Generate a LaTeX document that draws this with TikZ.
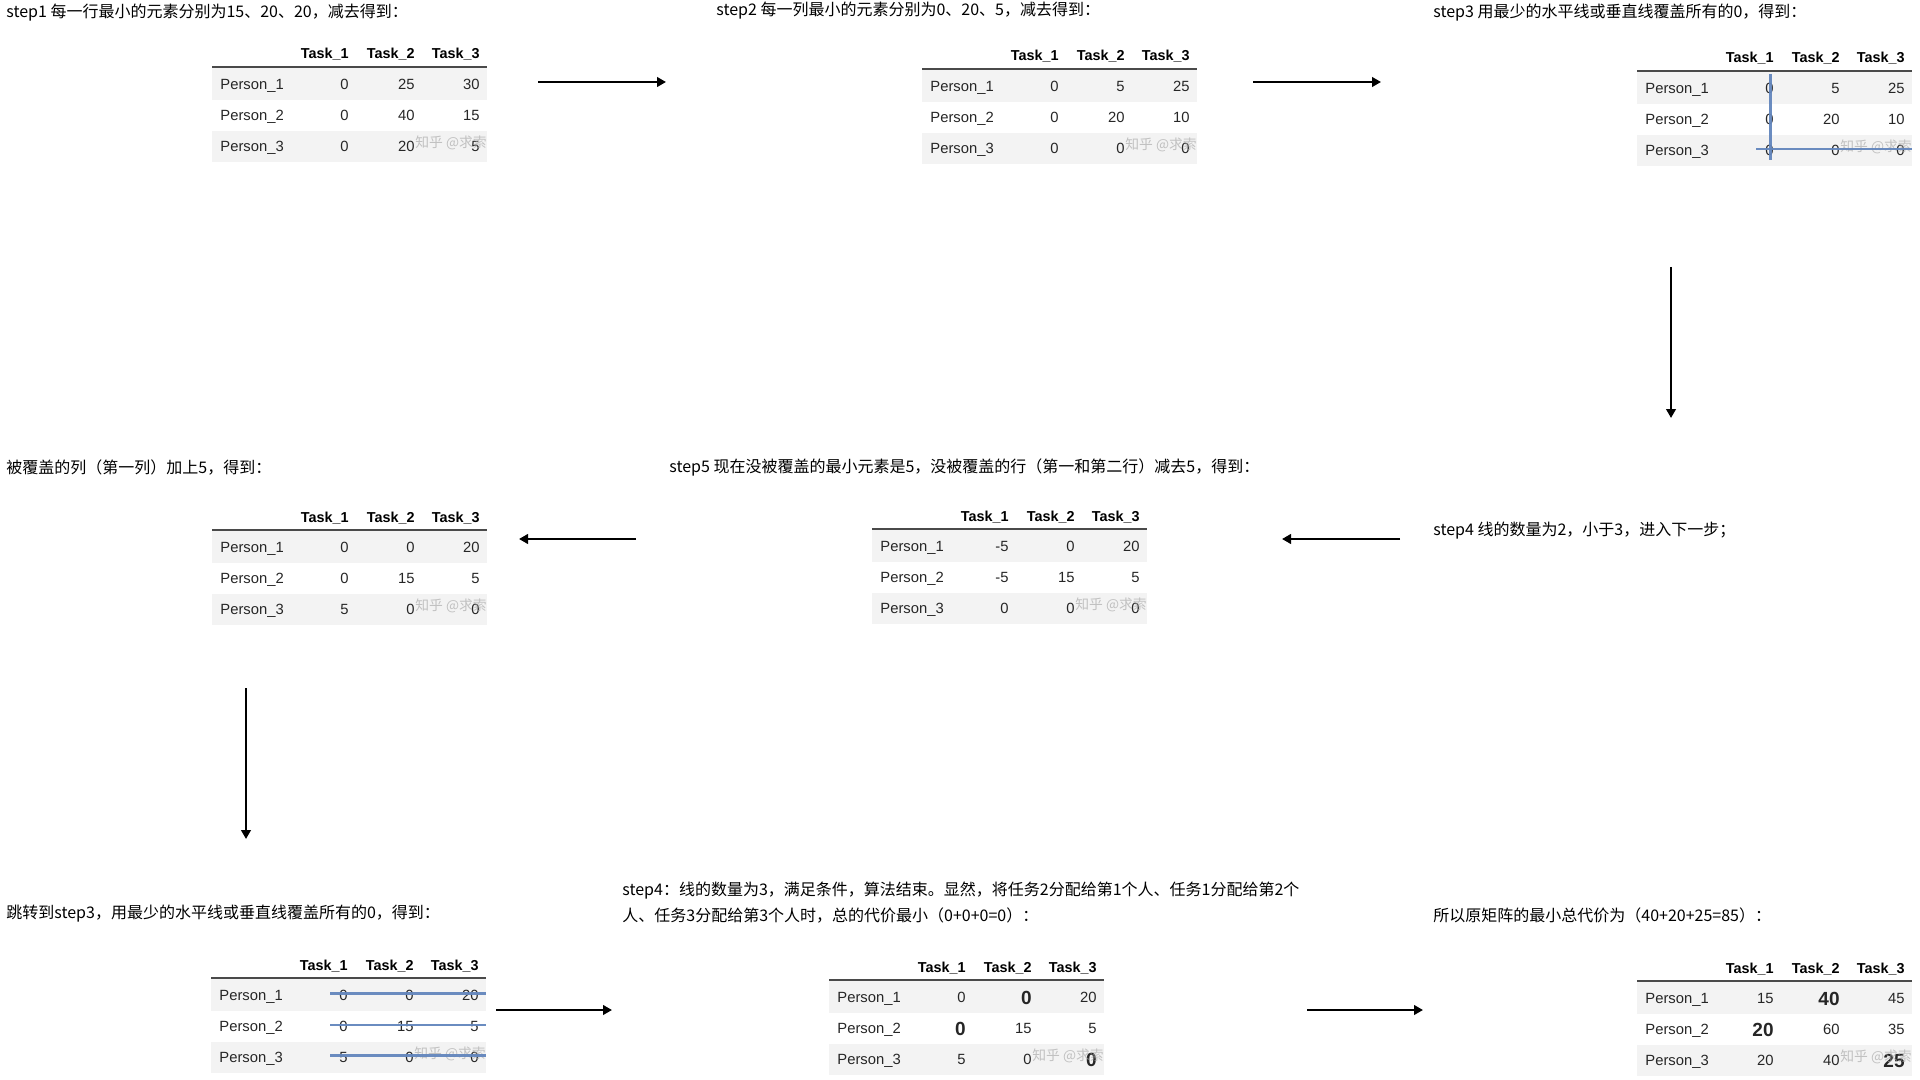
\documentclass[tikz,border=0pt]{standalone}
\usepackage{fontspec}
\setmainfont{Liberation Sans}
\newfontfamily\cjk{Noto Sans CJK SC}
\usetikzlibrary{arrows.meta}
\definecolor{rowgray}{HTML}{F3F3F3}
\definecolor{coverblue}{HTML}{6386BD}
\definecolor{rulegray}{HTML}{4A4A4A}
\newcommand\tabfont{\fontsize{7.4}{8}\selectfont}
\newcommand\hdfont{\fontsize{7.2}{8}\selectfont\bfseries}
\newcommand\capfont{\cjk\fontsize{8}{9}\selectfont}
\newcommand\bn[1]{\raisebox{-0.8pt}{\fontsize{9.5}{10}\selectfont\bfseries #1}}
\tikzset{
  cell/.style={anchor=base east, inner sep=0pt, font=\tabfont, text=black!85},
  pcell/.style={anchor=base west, inner sep=0pt, font=\tabfont, text=black!85},
  hcell/.style={anchor=base east, inner sep=0pt, font=\hdfont, text=black},
  caption/.style={anchor=west, inner sep=0pt, font=\capfont, text=black},
  wm/.style={anchor=west, inner sep=0pt, font=\cjk\fontsize{6.9}{8}\selectfont, text=gray!70, opacity=0.65},
  conn/.style={-{Triangle[length=4.5pt,width=4.8pt]}, line width=1.1pt, black},
  cover/.style={line width=1.4pt, coverblue, opacity=0.95}
}
\newcommand\prow[5]{%
  \node[pcell] (#1-p#2) at (8,{17.5+31*(#2-1)+5.2}) {Person\_#2};
  \node[cell] (#1-v#2a) at (137,{17.5+31*(#2-1)+5.2}) {#3};
  \node[cell] (#1-v#2b) at (203,{17.5+31*(#2-1)+5.2}) {#4};
  \node[cell] (#1-v#2c) at (268,{17.5+31*(#2-1)+5.2}) {#5};
}
\newcommand\ptab[6]{%
  \begin{scope}[shift={(#2,#3)}]
    \fill[rowgray] (0,1) rectangle (275,33);
    \fill[rowgray] (0,64) rectangle (275,95);
    \draw[rulegray, line width=0.8pt] (0,0) -- (275,0);
    \node[hcell] (#1-h1) at (137,-8) {Task\_1};
    \node[hcell] (#1-h2) at (203,-8) {Task\_2};
    \node[hcell] (#1-h3) at (268,-8) {Task\_3};
    \prow{#1}{1}#4
    \prow{#1}{2}#5
    \prow{#1}{3}#6
    \node[wm] (#1-wm) at (203,76) {知乎 @求索};
  \end{scope}}
\begin{document}
\begin{tikzpicture}[x=0.5pt,y=-0.5pt]
\fill[white] (0,0) rectangle (1920,1080);
\useasboundingbox (0,0) rectangle (1920,1080);

% captions
\node[caption] (c1) at (6,13) {step1 每一行最小的元素分别为15、20、20，减去得到：};
\node[caption] (c2) at (716,11) {step2 每一列最小的元素分别为0、20、5，减去得到：};
\node[caption] (c3) at (1433,13) {step3 用最少的水平线或垂直线覆盖所有的0，得到：};
\node[caption] (c4) at (6,468) {被覆盖的列（第一列）加上5，得到：};
\node[caption] (c5) at (669,467) {step5 现在没被覆盖的最小元素是5，没被覆盖的行（第一和第二行）减去5，得到：};
\node[caption] (c6) at (1433,531) {step4 线的数量为2，小于3，进入下一步；};
\node[caption] (c7) at (6,914) {跳转到step3，用最少的水平线或垂直线覆盖所有的0，得到：};
\node[caption] (c8a) at (622,891) {step4：线的数量为3，满足条件，算法结束。显然，将任务2分配给第1个人、任务1分配给第2个};
\node[caption] (c8b) at (622,915) {人、任务3分配给第3个人时，总的代价最小（0+0+0=0）：};
\node[caption] (c9) at (1433,915) {所以原矩阵的最小总代价为（40+20+25=85）：};

% tables
\ptab{t1}{212}{67}{{0}{25}{30}}{{0}{40}{15}}{{0}{20}{5}}
\ptab{t2}{922}{69}{{0}{5}{25}}{{0}{20}{10}}{{0}{0}{0}}
\ptab{t3}{1637}{71}{{0}{5}{25}}{{0}{20}{10}}{{0}{0}{0}}
\ptab{t4}{212}{530}{{0}{0}{20}}{{0}{15}{5}}{{5}{0}{0}}
\ptab{t5}{872}{529}{{-5}{0}{20}}{{-5}{15}{5}}{{0}{0}{0}}
\ptab{t6}{211}{978}{{0}{0}{20}}{{0}{15}{5}}{{5}{0}{0}}
\ptab{t7}{829}{980}{{0}{\bn{0}}{20}}{{\bn{0}}{15}{5}}{{5}{0}{\bn{0}}}
\ptab{t8}{1637}{981}{{15}{\bn{40}}{45}}{{\bn{20}}{60}{35}}{{20}{40}{\bn{25}}}

% covering lines
\begin{scope}[shift={(1637,71)}]
  \draw[cover] (133.7,3) -- (133.7,89);
  \draw[cover] (119,78) -- (275,78);
\end{scope}
\begin{scope}[shift={(211,978)}]
  \draw[cover] (119,15.5) -- (275,15.5);
  \draw[cover] (119,47) -- (275,47);
  \draw[cover] (119,77.5) -- (275,77.5);
\end{scope}

% arrows
\coordinate (a1s) at (538,82);   \coordinate (a1e) at (666,82);
\coordinate (a2s) at (1253,82);  \coordinate (a2e) at (1381,82);
\coordinate (a3s) at (1671,267); \coordinate (a3e) at (1671,418);
\coordinate (a4s) at (1400,539); \coordinate (a4e) at (1282,539);
\coordinate (a5s) at (636,539);  \coordinate (a5e) at (519,539);
\coordinate (a6s) at (246,688);  \coordinate (a6e) at (246,839);
\coordinate (a7s) at (496,1010); \coordinate (a7e) at (612,1010);
\coordinate (a8s) at (1307,1010);\coordinate (a8e) at (1423,1010);
\draw[conn] (a1s) -- (a1e);
\draw[conn] (a2s) -- (a2e);
\draw[conn] (a3s) -- (a3e);
\draw[conn] (a4s) -- (a4e);
\draw[conn] (a5s) -- (a5e);
\draw[conn] (a6s) -- (a6e);
\draw[conn] (a7s) -- (a7e);
\draw[conn] (a8s) -- (a8e);
\end{tikzpicture}
\end{document}
